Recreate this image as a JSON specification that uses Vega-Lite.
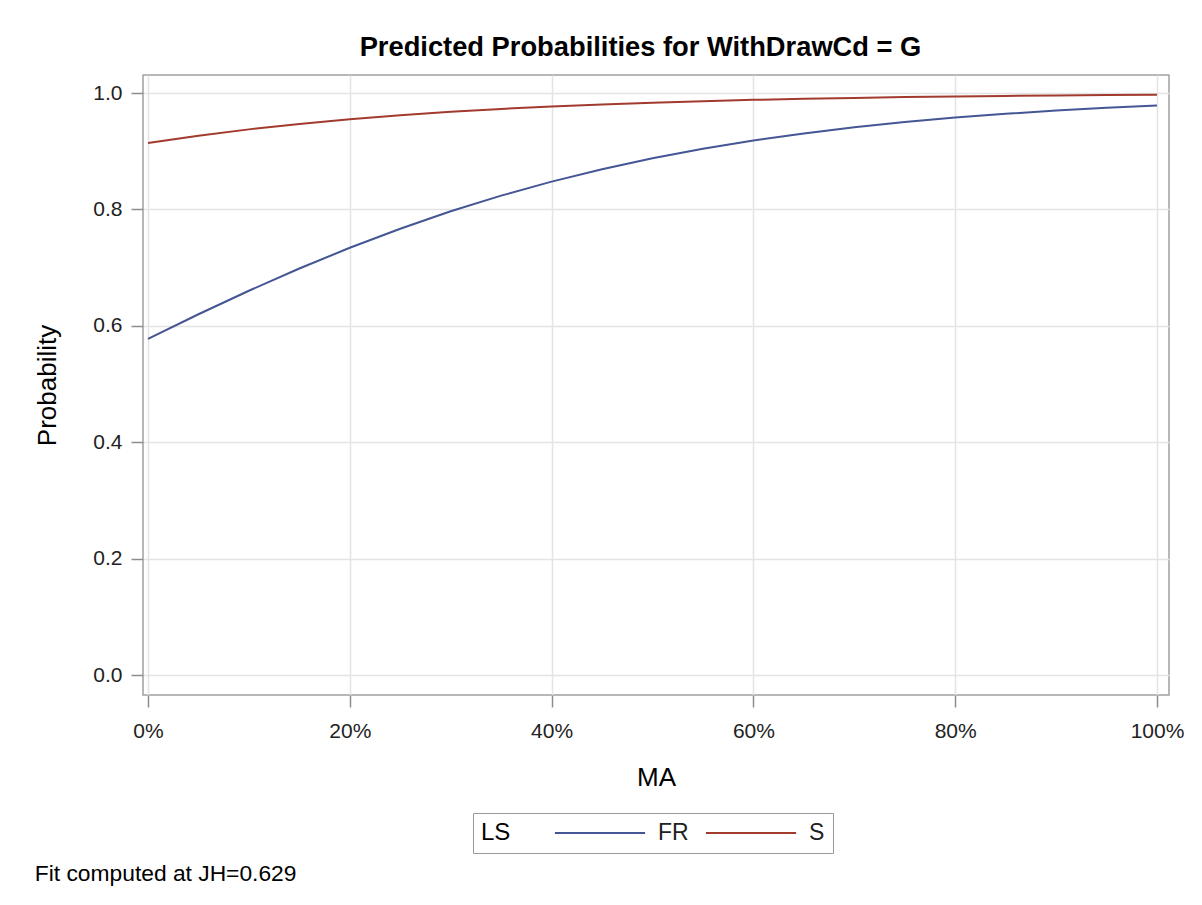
{
  "$schema": "https://vega.github.io/schema/vega-lite/v6.json",
  "autosize": {"type": "none"},
  "width": 1026,
  "height": 620,
  "padding": {"left": 143, "top": 75, "right": 33, "bottom": 210},
  "background": "white",
  "title": {
    "text": "Fit computed at JH=0.629",
    "orient": "bottom",
    "anchor": "start",
    "fontSize": 22.8,
    "fontWeight": "normal",
    "color": "#000000",
    "offset": 9
  },
  "data": {
    "values": [
      {"MA": 0.00, "Probability": 0.5779, "LS": "FR"},
      {"MA": 0.05, "Probability": 0.6200, "LS": "FR"},
      {"MA": 0.10, "Probability": 0.6604, "LS": "FR"},
      {"MA": 0.15, "Probability": 0.6986, "LS": "FR"},
      {"MA": 0.20, "Probability": 0.7342, "LS": "FR"},
      {"MA": 0.25, "Probability": 0.7670, "LS": "FR"},
      {"MA": 0.30, "Probability": 0.7969, "LS": "FR"},
      {"MA": 0.35, "Probability": 0.8238, "LS": "FR"},
      {"MA": 0.40, "Probability": 0.8479, "LS": "FR"},
      {"MA": 0.45, "Probability": 0.8691, "LS": "FR"},
      {"MA": 0.50, "Probability": 0.8879, "LS": "FR"},
      {"MA": 0.55, "Probability": 0.9042, "LS": "FR"},
      {"MA": 0.60, "Probability": 0.9184, "LS": "FR"},
      {"MA": 0.65, "Probability": 0.9306, "LS": "FR"},
      {"MA": 0.70, "Probability": 0.9411, "LS": "FR"},
      {"MA": 0.75, "Probability": 0.9501, "LS": "FR"},
      {"MA": 0.80, "Probability": 0.9578, "LS": "FR"},
      {"MA": 0.85, "Probability": 0.9643, "LS": "FR"},
      {"MA": 0.90, "Probability": 0.9699, "LS": "FR"},
      {"MA": 0.95, "Probability": 0.9746, "LS": "FR"},
      {"MA": 1.00, "Probability": 0.9786, "LS": "FR"},
      {"MA": 0.00, "Probability": 0.9141, "LS": "S"},
      {"MA": 0.05, "Probability": 0.9267, "LS": "S"},
      {"MA": 0.10, "Probability": 0.9376, "LS": "S"},
      {"MA": 0.15, "Probability": 0.9470, "LS": "S"},
      {"MA": 0.20, "Probability": 0.9550, "LS": "S"},
      {"MA": 0.25, "Probability": 0.9619, "LS": "S"},
      {"MA": 0.30, "Probability": 0.9677, "LS": "S"},
      {"MA": 0.35, "Probability": 0.9727, "LS": "S"},
      {"MA": 0.40, "Probability": 0.9769, "LS": "S"},
      {"MA": 0.45, "Probability": 0.9805, "LS": "S"},
      {"MA": 0.50, "Probability": 0.9835, "LS": "S"},
      {"MA": 0.55, "Probability": 0.9861, "LS": "S"},
      {"MA": 0.60, "Probability": 0.9883, "LS": "S"},
      {"MA": 0.65, "Probability": 0.9901, "LS": "S"},
      {"MA": 0.70, "Probability": 0.9917, "LS": "S"},
      {"MA": 0.75, "Probability": 0.9930, "LS": "S"},
      {"MA": 0.80, "Probability": 0.9941, "LS": "S"},
      {"MA": 0.85, "Probability": 0.9950, "LS": "S"},
      {"MA": 0.90, "Probability": 0.9958, "LS": "S"},
      {"MA": 0.95, "Probability": 0.9965, "LS": "S"},
      {"MA": 1.00, "Probability": 0.9970, "LS": "S"}
    ]
  },
  "encoding": {
    "y": {
      "field": "Probability",
      "type": "quantitative",
      "scale": {"domain": [-0.034, 1.031], "nice": false, "zero": false},
      "axis": {
        "title": "Probability",
        "values": [0, 0.2, 0.4, 0.6, 0.8, 1.0],
        "format": ".1f",
        "domain": false,
        "grid": true,
        "gridColor": "#e4e4e4",
        "gridWidth": 1.5,
        "tickSize": 12,
        "tickColor": "#8c8c8c",
        "tickWidth": 1.5,
        "labelFontSize": 21,
        "labelColor": "#222222",
        "labelPadding": 9,
        "titleFontSize": 26,
        "titleFontWeight": "normal",
        "titleColor": "#000000",
        "titlePadding": 32
      }
    },
    "color": {
      "field": "LS",
      "type": "nominal",
      "scale": {"domain": ["FR", "S"], "range": ["#445694", "#A23A2E"]},
      "legend": {
        "title": "LS",
        "orient": "none",
        "legendX": 330,
        "legendY": 738,
        "direction": "horizontal",
        "titleOrient": "left",
        "titleFontSize": 24,
        "titleFontWeight": "normal",
        "titleColor": "#000000",
        "titlePadding": 77,
        "labelFontSize": 23,
        "labelColor": "#222222",
        "labelOffset": 46,
        "columnPadding": 12,
        "symbolType": "M-4.1,0H4.1",
        "symbolSize": 484,
        "symbolStrokeWidth": 2,
        "strokeColor": "#9a9a9a",
        "padding": 8
      }
    }
  },
  "layer": [
    {
      "transform": [{"filter": "datum.LS === 'FR'"}],
      "mark": {"type": "line", "strokeWidth": 2},
      "encoding": {
        "x": {
          "field": "MA",
          "type": "quantitative",
          "scale": {"domain": [-0.00496, 1.01189], "nice": false, "zero": false},
          "axis": {
            "title": "MA",
            "orient": "bottom",
            "values": [0, 0.2, 0.4, 0.6, 0.8, 1.0],
            "format": ".0%",
            "domain": false,
            "grid": true,
            "gridColor": "#e4e4e4",
            "gridWidth": 1.5,
            "tickSize": 12,
            "tickColor": "#8c8c8c",
            "tickWidth": 1.5,
            "labelFontSize": 21,
            "labelColor": "#222222",
            "labelPadding": 13,
            "titleFontSize": 26,
            "titleFontWeight": "normal",
            "titleColor": "#000000",
            "titlePadding": 23
          }
        }
      }
    },
    {
      "transform": [{"filter": "datum.LS === 'S'"}],
      "mark": {"type": "line", "strokeWidth": 2},
      "encoding": {
        "x": {
          "field": "MA",
          "type": "quantitative",
          "scale": {"domain": [-0.00496, 1.01189], "nice": false, "zero": false},
          "axis": {
            "title": "Predicted Probabilities for WithDrawCd = G",
            "orient": "top",
            "labels": false,
            "ticks": false,
            "tickSize": 0,
            "domain": false,
            "grid": false,
            "titleFontSize": 27.3,
            "titleFontWeight": "bold",
            "titleColor": "#000000",
            "titlePadding": 14,
            "titleX": 497
          }
        }
      }
    }
  ],
  "resolve": {"axis": {"x": "independent"}},
  "config": {
    "font": "Liberation Sans",
    "view": {"stroke": "#a0a0a0", "strokeWidth": 1.5}
  }
}
